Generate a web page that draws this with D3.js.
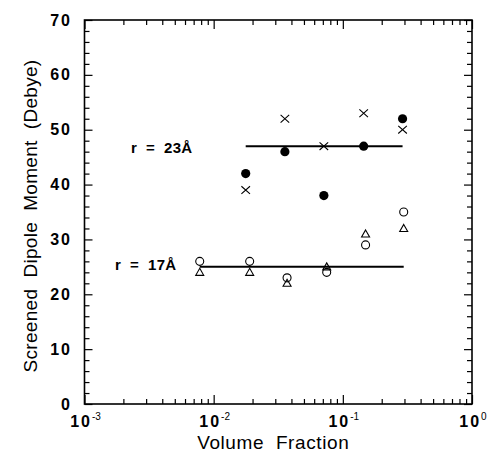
<!DOCTYPE html>
<html lang="en">
<head>
<meta charset="utf-8">
<title>Screened dipole moment</title>
<style>
body{margin:0;background:#fff;}
svg text{font-family:Arial,"Liberation Sans",Helvetica,sans-serif;fill:#000;white-space:pre;}
</style>
</head>
<body>
<svg width="487" height="460"></svg>
<script src="https://d3js.org/d3.v7.min.js"></script>
<script>
// r = 23 A series
var fracBig = [0.0177, 0.0356, 0.0713, 0.145, 0.29];
var filledBig = [42, 46, 38, 47, 52];
var crossBig = [39, 52, 47, 53, 50];
var fitBig = 47;
// r = 17 A series
var fracSmall = [0.0078, 0.019, 0.037, 0.075, 0.150, 0.296];
var circleSmall = [26, 26, 23, 24, 29, 35];
var triSmall = [24, 24, 22, 25, 31, 32];
var fitSmall = 25;
// axes
var xDecades = [1e-3, 1e-2, 1e-1, 1];
var xExp = ["-3", "-2", "-1", "0"];
var yMajor = [0, 10, 20, 30, 40, 50, 60, 70];

var svg = d3.select("svg"),
    plotL = 84.5, plotR = 472, plotT = 20, plotB = 404;

var x = d3.scaleLog().domain([1e-3, 1]).range([plotL, plotR]);
var y = d3.scaleLinear().domain([0, 70]).range([plotB, plotT]);

var xMinor = x.ticks().filter(function(d) { return Math.abs(Math.log10(d) - Math.round(Math.log10(d))) > 1e-6; });
var yMinor = d3.range(0, 71, 2).filter(function(d) { return d % 10 !== 0; });

// frame ticks, all pointing inward
function tickAxes(axisFn, scale, vals, size, tx, ty) {
  svg.append("g")
      .attr("transform", "translate(" + tx + "," + ty + ")")
      .call(axisFn(scale).tickValues(vals).tickSize(size).tickFormat(""))
      .call(function(g) { g.select(".domain").remove(); })
      .selectAll("line").attr("stroke", "#000").attr("stroke-width", 1.2);
}
tickAxes(d3.axisBottom, x, xDecades, -9, 0, plotB);
tickAxes(d3.axisBottom, x, xMinor, -5, 0, plotB);
tickAxes(d3.axisTop, x, xDecades, -9, 0, plotT);
tickAxes(d3.axisTop, x, xMinor, -5, 0, plotT);
tickAxes(d3.axisLeft, y, yMajor, -8, plotL, 0);
tickAxes(d3.axisLeft, y, yMinor, -5, plotL, 0);
tickAxes(d3.axisRight, y, yMajor, -8, plotR, 0);
tickAxes(d3.axisRight, y, yMinor, -5, plotR, 0);

svg.append("rect")
    .attr("x", plotL).attr("y", plotT)
    .attr("width", plotR - plotL).attr("height", plotB - plotT)
    .attr("fill", "none").attr("stroke", "#000").attr("stroke-width", 1.6);

// y tick labels
svg.append("g").selectAll("text").data(yMajor).enter().append("text")
    .attr("x", 72).attr("y", function(d) { return y(d) + 5.5; })
    .attr("text-anchor", "end")
    .style("font-size", "16px").style("font-weight", "bold").style("letter-spacing", "2px")
    .text(function(d) { return d; });

// x tick labels 10^n
var xl = svg.append("g").selectAll("text").data(xDecades).enter().append("text")
    .attr("x", function(d) { return x(d) + 1; }).attr("y", 427)
    .attr("text-anchor", "middle")
    .style("font-size", "16px").style("font-weight", "bold");
xl.append("tspan").style("letter-spacing", "2px").text("10");
xl.append("tspan").attr("dy", -7).style("font-size", "10px").style("font-weight", "normal")
    .text(function(d, i) { return xExp[i]; });

// axis titles
svg.append("text")
    .attr("x", (plotL + plotR) / 2 - 5).attr("y", 449)
    .attr("text-anchor", "middle")
    .style("font-size", "19px").style("letter-spacing", "0.6px")
    .text("Volume  Fraction");
svg.append("text")
    .attr("transform", "translate(37,216) rotate(-90)")
    .attr("text-anchor", "middle")
    .style("font-size", "19px").style("letter-spacing", "0.3px")
    .text("Screened  Dipole  Moment  (Debye)");

// fit lines
function fitLine(fr, v) {
  svg.append("line")
      .attr("x1", x(d3.min(fr))).attr("x2", x(d3.max(fr)))
      .attr("y1", y(v)).attr("y2", y(v))
      .attr("stroke", "#000").attr("stroke-width", 2);
}
fitLine(fracBig, fitBig);
fitLine(fracSmall, fitSmall);

// labels
svg.append("text").attr("x", 131).attr("y", y(fitBig) + 7)
    .style("font-size", "15px").style("font-weight", "bold").style("letter-spacing", "0.3px")
    .text("r  =  23Å");
svg.append("text").attr("x", 115).attr("y", y(fitSmall) + 3)
    .style("font-size", "15px").style("font-weight", "bold").style("letter-spacing", "0.3px")
    .text("r  =  17Å");

// markers
svg.append("g").selectAll("circle").data(fracBig).enter().append("circle")
    .attr("cx", function(d) { return x(d); })
    .attr("cy", function(d, i) { return y(filledBig[i]); })
    .attr("r", 4.6).attr("fill", "#000");

svg.append("g").selectAll("path").data(fracBig).enter().append("path")
    .attr("transform", function(d, i) { return "translate(" + x(d) + "," + y(crossBig[i]) + ")"; })
    .attr("d", "M-4.3,-3.8L4.3,3.8M-4.3,3.8L4.3,-3.8")
    .attr("stroke", "#000").attr("stroke-width", 1.1).attr("fill", "none");

svg.append("g").selectAll("circle").data(fracSmall).enter().append("circle")
    .attr("cx", function(d) { return x(d); })
    .attr("cy", function(d, i) { return y(circleSmall[i]); })
    .attr("r", 4).attr("fill", "none").attr("stroke", "#000").attr("stroke-width", 1.1);

svg.append("g").selectAll("path").data(fracSmall).enter().append("path")
    .attr("transform", function(d, i) { return "translate(" + x(d) + "," + y(triSmall[i]) + ")"; })
    .attr("d", "M0,-4L4,3L-4,3Z")
    .attr("stroke", "#000").attr("stroke-width", 1.1).attr("fill", "none");
</script>
</body>
</html>
